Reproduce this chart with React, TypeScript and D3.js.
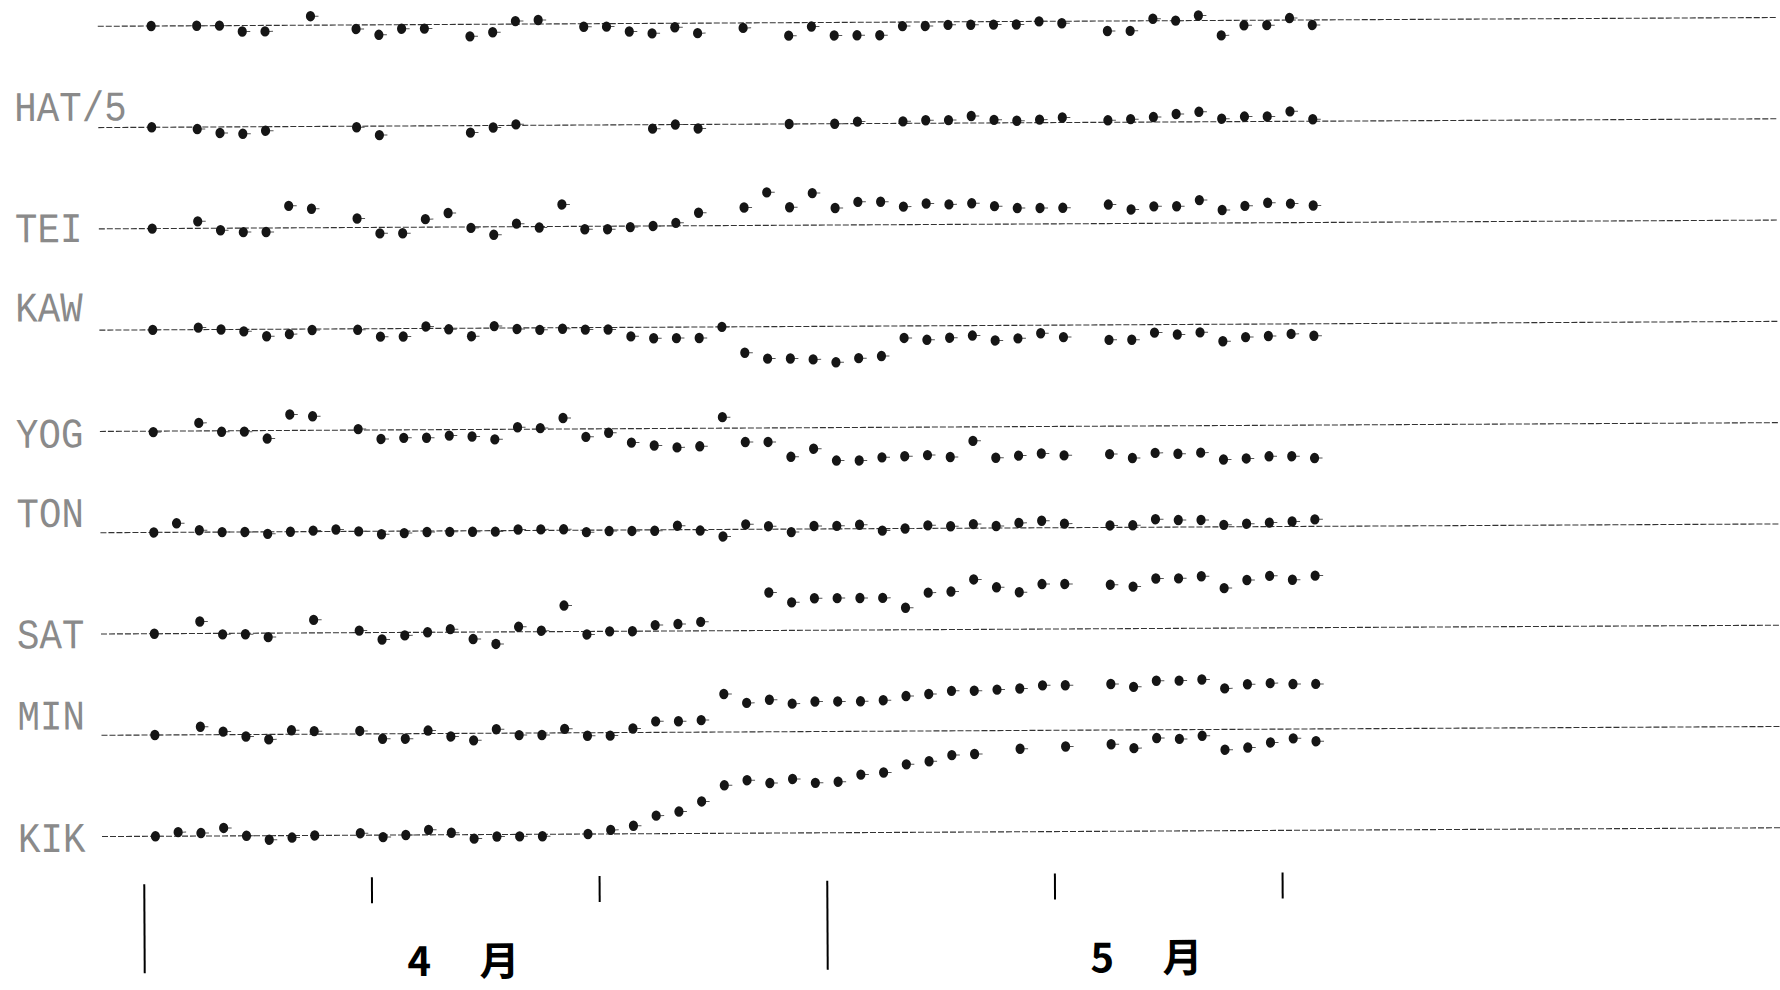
import React from 'react';
import * as d3 from 'd3';

const W = 1780;
const H = 990;

// station names, top to bottom (the first row's name is off the top of the sheet)
const stationNames = ['', 'HAT/5', 'TEI', 'KAW', 'YOG', 'TON', 'SAT', 'MIN', 'KIK'];

// daily readings 1 Apr .. 22 May, deviation from each station's reference line (null = no reading)
const row0 = [0, null, 0, 0, -6, -6, 32, 9, null, -4, -10, -4, -4, 32, -12, -8, 3, 4, 32, -3, -3, -8, -10, -4, -10, null,
  -5, 32, -13, -4, -13, -13, -13, -4, -4, -3, -3, -3, -3, 0, -2, null, -10, -10, 2, 0, 5, -15, -5, -5, 2, -5];
const hat = [0, null, -2, -6, -7, -4, null, null, null, -1, -9, null, null, null, -7, -2, 1, null, null, null, null, null, -4, 0, -4, null,
  null, null, 0, null, 0, 2, null, 2, 3, 3, 7, 3, 2, 3, 5, null, 2, 3, 5, 8, 10, 3, 5, 5, 10, 2];
const tei = [0, null, 7, -2, -4, -4, 22, 19, null, 9, -6, -6, 8, 14, -1, -8, 3, -1, 22, -3, -3, -1, 0, 3, 13, null,
  18, 33, 18, 32, 17, 23, 23, 18, 21, 20, 21, 18, 16, 16, 16, null, 19, 14, 17, 17, 23, 13, 17, 20, 19, 17];
const kaw = [0, null, 2, 0, -2, -7, -5, -1, null, -1, -8, -8, 2, -1, -8, 2, -1, -2, -1, -2, -2, -9, -11, -11, -11, 0,
  -26, -32, -32, -33, -36, -32, -30, -12, -14, -12, -10, -15, -13, -8, -12, null, -15, -15, -8, -10, -8, -17, -13, -12, -10, -12];
const yog = [-1, null, 8, -1, -1, -8, 16, 14, null, 1, -9, -8, -8, -6, -7, -10, 2, 1, 11, -8, -4, -14, -17, -19, -18, 11,
  -14, -14, -29, -21, -33, -33, -30, -29, -28, -30, -14, -31, -29, -27, -29, null, -28, -32, -27, -28, -27, -34, -33, -31, -31, -33];
const ton = [0, 9, 2, 0, 0, -2, 0, 1, 2, 0, -3, -2, -1, -1, -1, -1, 1, 1, 1, -2, -1, -1, -1, 4, -1, -7,
  5, 3, -3, 3, 3, 4, -2, 0, 3, 2, 4, 2, 5, 7, 4, null, 2, 2, 8, 7, 7, 2, 3, 4, 5, 7];
const sat = [0, null, 12, -1, -1, -4, null, 13, null, 2, -7, -3, 0, 3, -7, -12, 5, 1, 26, -3, 0, 0, 6, 7, 9, null,
  null, 38, 28, 32, 32, 32, 32, 22, 37, 38, 50, 42, 37, 45, 45, null, 44, 42, 50, 50, 52, 40, 48, 52, 48, 52];
const min = [0, null, 8, 3, -2, -5, 4, 3, null, 3, -5, -5, 3, -3, -7, 4, -2, -2, 4, -3, -3, 4, 11, 11, 12, 38,
  29, 32, 28, 30, 30, 30, 31, 35, 37, 40, 40, 41, 42, 45, 45, null, 46, 43, 49, 49, 50, 41, 45, 46, 45, 45];
const kik = [0, 4, 3, 8, 0, -4, -2, 0, null, 2, -2, 0, 5, 2, -4, -2, -2, -2, null, 0, 4, 8, 18, 22, 32, 48,
  53, 50, 54, 50, 51, 58, 60, 68, 71, 77, 78, null, 83, null, 85, null, 87, 83, 93, 92, 95, 81, 83, 88, 92, 89];

const series = [row0, hat, tei, kaw, yog, ton, sat, min, kik];

const monthLabels = ['4 月', '5 月'];

// layout: where each name sits relative to its reference line
const labelDy = [0, -7, 13, -9, 16, -6, 14, -6, 15];

const day0 = new Date(1980, 3, 1);
const days = d3.timeDay.range(day0, new Date(1980, 4, 23));
const tickDays = [new Date(1980, 3, 1), new Date(1980, 3, 11), new Date(1980, 3, 21),
  new Date(1980, 4, 1), new Date(1980, 4, 11), new Date(1980, 4, 21)];
const monthMid = [new Date(1980, 3, 15), new Date(1980, 4, 15)];

export default function App() {
  const x = d3.scaleTime()
    .domain([new Date(1980, 3, 1), new Date(1980, 4, 1)])
    .range([142, 825]);
  const rowY = d3.scaleLinear().domain([1, 8]).range([126, 835]);
  const yOff = d3.scaleLinear().domain([0, 100]).range([0, -100]);
  const xc = (d: Date) => x(d3.timeHour.offset(d, 12));

  return (
    <svg width={W} height={H} style={{ position: 'absolute', left: 0, top: 0, background: '#fff' }}>
      <rect width={W} height={H} fill="#fff" />
      <g transform="rotate(-0.3, 400, 450)">
        {series.map((vals, r) => {
          const y0 = rowY(r);
          return (
            <g key={r}>
              <line x1={100} x2={W} y1={y0} y2={y0} stroke="#333" strokeWidth={1.1} strokeDasharray="6 2" />
              {stationNames[r] && (
                <text x={16} y={y0 + labelDy[r]} fontFamily="Liberation Mono, DejaVu Sans Mono, monospace"
                  fontSize={42} fill="#8a8a8a" textLength={stationNames[r].length * 22.5}
                  lengthAdjust="spacingAndGlyphs">{stationNames[r]}</text>
              )}
              {vals.map((v, i) => v == null ? null : (
                <g key={i}>
                  <line x1={xc(days[i]) + 4} x2={xc(days[i]) + 8} y1={y0 + yOff(v)} y2={y0 + yOff(v)} stroke="#555" strokeWidth={1} />
                  <ellipse cx={xc(days[i])} cy={y0 + yOff(v)} rx={4.6} ry={5.2} fill="#151515" />
                </g>
              ))}
            </g>
          );
        })}
        {tickDays.map((d, i) => {
          const major = d.getDate() === 1;
          return (
            <line key={i} x1={x(d)} x2={x(d)} y1={major ? 883 : 877} y2={major ? 972 : 903}
              stroke="#000" strokeWidth={2} />
          );
        })}
        {monthLabels.map((m, i) => (
          <text key={m} x={x(monthMid[i])} y={976} textAnchor="middle" fontFamily="Noto Sans CJK JP"
            fontWeight="bold" fontSize={40} fill="#000" textLength={112}
            lengthAdjust="spacing">{m}</text>
        ))}
      </g>
    </svg>
  );
}
